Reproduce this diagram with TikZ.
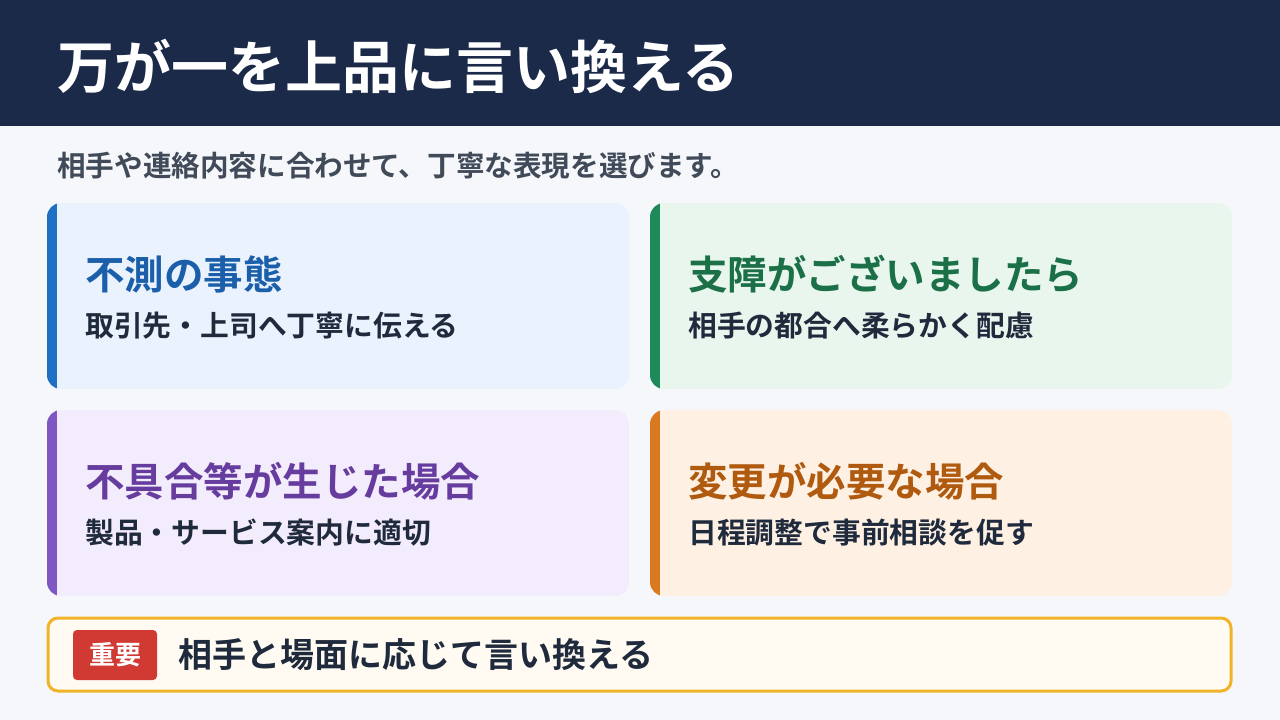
\documentclass[tikz,border=0pt]{standalone}
\usepackage{fontspec}
\newfontfamily\jp{Noto Sans CJK JP}[BoldFont={* Bold}]
\definecolor{hdr}{HTML}{1C2A4A}
\definecolor{bg}{HTML}{F5F7FB}
\definecolor{txt}{HTML}{1F2A3C}
\definecolor{cAbg}{HTML}{EAF2FE}\definecolor{cAac}{HTML}{1F6FC5}\definecolor{cAt}{HTML}{1B5FAA}
\definecolor{cBbg}{HTML}{E8F6EE}\definecolor{cBac}{HTML}{1E8A5A}\definecolor{cBt}{HTML}{1B7048}
\definecolor{cCbg}{HTML}{F3ECFC}\definecolor{cCac}{HTML}{7E57C2}\definecolor{cCt}{HTML}{663D9E}
\definecolor{cDbg}{HTML}{FEF1E4}\definecolor{cDac}{HTML}{D97A20}\definecolor{cDt}{HTML}{B05A10}
\definecolor{gold}{HTML}{F0B429}\definecolor{cream}{HTML}{FFFBF2}\definecolor{red}{HTML}{D03A33}
\begin{document}
\begin{tikzpicture}[x=1pt,y=-1pt,
  head/.style={anchor=west,inner sep=0,font=\jp\bfseries\fontsize{39.5}{44}\selectfont},
  sub/.style={anchor=west,inner sep=0,text=txt,font=\jp\bfseries\fontsize{28.8}{32}\selectfont}]
\useasboundingbox (0,0) rectangle (1280,720);
\fill[bg] (0,0) rectangle (1280,720);
\fill[hdr] (0,0) rectangle (1280,126);
\node[anchor=west,inner sep=0,text=white,font=\jp\bfseries\fontsize{57}{62}\selectfont] (title) at (57,66) {万が一を上品に言い換える};
\node[anchor=west,inner sep=0,text=txt!85!white,font=\jp\bfseries\fontsize{28.6}{32}\selectfont] (intro) at (57,166) {相手や連絡内容に合わせて、丁寧な表現を選びます。};
\foreach \x/\y/\c/\h/\s in {47/203/cA/不測の事態/取引先・上司へ丁寧に伝える,650/203/cB/支障がございましたら/相手の都合へ柔らかく配慮,47/410/cC/不具合等が生じた場合/製品・サービス案内に適切,650/410/cD/変更が必要な場合/日程調整で事前相談を促す}{
  \begin{scope}
  \clip[rounded corners=14] (\x,\y) rectangle ++(582,186);
  \fill[\c bg] (\x,\y) rectangle ++(582,186);
  \fill[\c ac] (\x,\y) rectangle ++(10,186);
  \end{scope}
  \node[head,text=\c t] at (\x+38,\y+71) {\h};
  \node[sub] at (\x+38,\y+123) {\s};
}
\draw[gold,line width=3,fill=cream,rounded corners=10] (48,618) rectangle (1231,691);
\node[fill=red,rounded corners=4,minimum width=84,minimum height=50,inner sep=0,text=white,font=\jp\bfseries\fontsize{26}{30}\selectfont] (badge) at (115,655) {重要};
\node[anchor=west,inner sep=0,text=txt,font=\jp\bfseries\fontsize{34}{38}\selectfont] (msg) at (178,655) {相手と場面に応じて言い換える};
\end{tikzpicture}
\end{document}
